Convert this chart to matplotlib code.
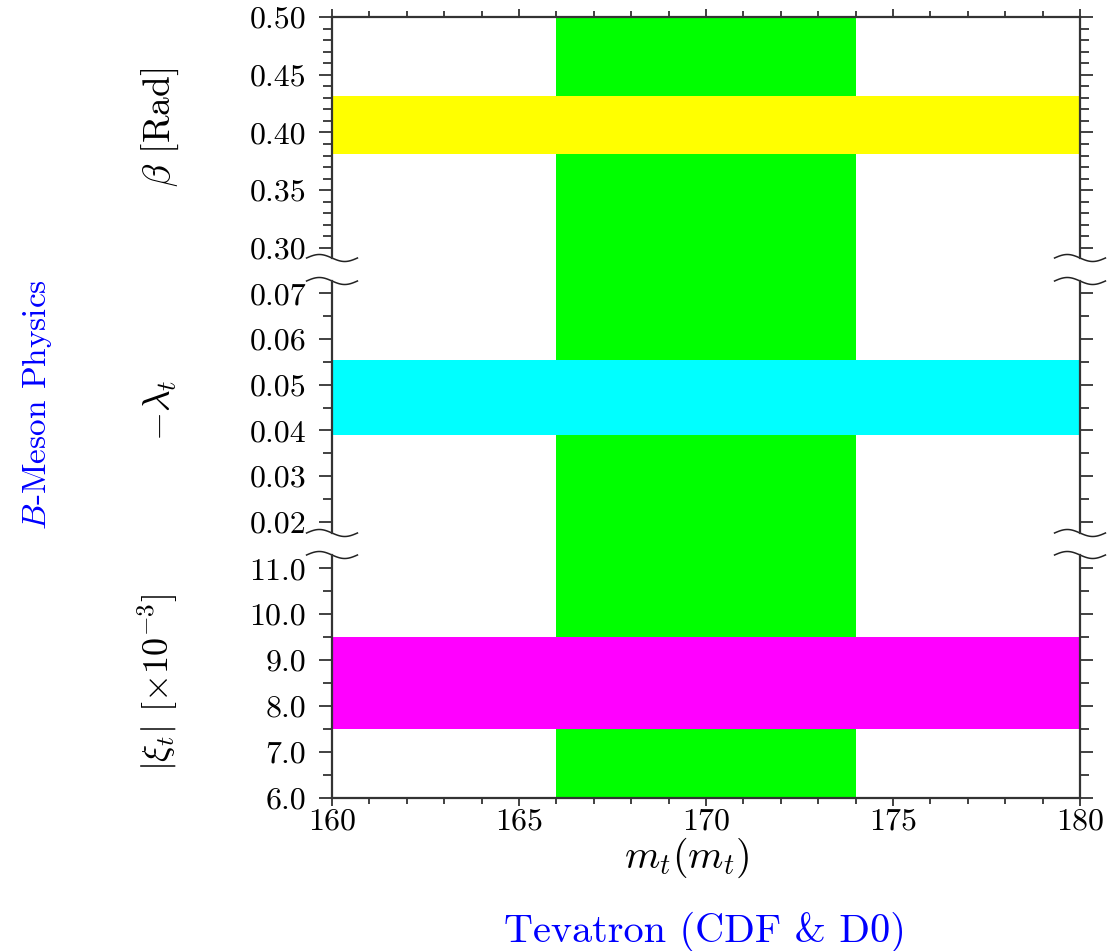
import numpy as np
import matplotlib
matplotlib.use("Agg")
import matplotlib.pyplot as plt
from matplotlib.ticker import MultipleLocator, FormatStrFormatter

plt.rcParams['font.family'] = ['cmr10', 'DejaVu Serif']
plt.rcParams['mathtext.fontset'] = 'cm'
plt.rcParams['axes.formatter.use_mathtext'] = True

# data
x_range = (160, 180)
mt_band = (166.0, 174.0)          # Tevatron m_t(m_t) band
beta_band = (0.381, 0.432)        # beta [Rad]
lam_band = (0.0389, 0.0554)       # -lambda_t
xi_band = (7.5, 9.5)              # |xi_t| [x10^-3]

beta_lim = (0.2913, 0.50)
lam_lim = (0.01753, 0.0727)
xi_lim = (6.0, 11.29)

W, H = 1111, 951
fig = plt.figure(figsize=(W / 100, H / 100), dpi=100)


def rect(x0, y0, x1, y1):
    # pixel box (top-left origin) -> figure fraction
    return [x0 / W, 1 - y1 / H, (x1 - x0) / W, (y1 - y0) / H]


xl, xr = 332, 1080
bg = fig.add_axes(rect(xl, 17, xr, 798), zorder=0)
bg.set_xlim(*x_range)
bg.set_ylim(0, 1)
bg.axvspan(*mt_band, color='#00ff00', lw=0)
bg.axis('off')

ax_top = fig.add_axes(rect(xl, 17, xr, 258), zorder=2)
ax_mid = fig.add_axes(rect(xl, 281, xr, 533), zorder=2)
ax_bot = fig.add_axes(rect(xl, 555, xr, 798), zorder=2)

ax_top.axhspan(*beta_band, color='#ffff00', lw=0)
ax_mid.axhspan(*lam_band, color='#00ffff', lw=0)
ax_bot.axhspan(*xi_band, color='#ff00ff', lw=0)

ax_top.set_ylim(*beta_lim)
ax_mid.set_ylim(*lam_lim)
ax_bot.set_ylim(*xi_lim)

ax_top.yaxis.set_major_locator(MultipleLocator(0.05))
ax_top.yaxis.set_minor_locator(MultipleLocator(0.01))
ax_top.yaxis.set_major_formatter(FormatStrFormatter('%.2f'))
ax_mid.yaxis.set_major_locator(MultipleLocator(0.01))
ax_mid.yaxis.set_minor_locator(MultipleLocator(0.005))
ax_mid.yaxis.set_major_formatter(FormatStrFormatter('%.2f'))
ax_bot.yaxis.set_major_locator(MultipleLocator(1.0))
ax_bot.yaxis.set_minor_locator(MultipleLocator(0.5))
ax_bot.yaxis.set_major_formatter(FormatStrFormatter('%.1f'))

spine_c = '#333333'
for ax in (ax_top, ax_mid, ax_bot):
    ax.patch.set_visible(False)
    ax.set_xlim(*x_range)
    ax.xaxis.set_major_locator(MultipleLocator(5))
    ax.xaxis.set_minor_locator(MultipleLocator(1))
    for s in ax.spines.values():
        s.set_color(spine_c)
        s.set_linewidth(1.6)
    ax.tick_params(axis='y', which='both', direction='out', left=True, right=True,
                   labelleft=True, labelright=False, color=spine_c, width=1.3,
                   labelsize=23, pad=9)
    ax.tick_params(axis='y', which='major', length=9.5)
    ax.tick_params(axis='y', which='minor', length=6.5)
    ax.tick_params(axis='x', which='both', direction='out', color=spine_c, width=1.3,
                   bottom=False, top=False, labelbottom=False, labelsize=23, pad=1)
    ax.tick_params(axis='x', which='major', length=6)
    ax.tick_params(axis='x', which='minor', length=4)

ax_top.spines['bottom'].set_visible(False)
ax_mid.spines['top'].set_visible(False)
ax_mid.spines['bottom'].set_visible(False)
ax_bot.spines['top'].set_visible(False)
ax_top.tick_params(axis='x', which='both', top=True)
ax_bot.tick_params(axis='x', which='both', bottom=True, labelbottom=True)

# wavy break marks
t = np.linspace(0, 1, 60)
wx = -0.034 + 0.068 * t
for ax, ypos, hpx in ((ax_top, 0.0, 241), (ax_mid, 1.0, 252), (ax_mid, 0.0, 252), (ax_bot, 1.0, 243)):
    wy = ypos + (3.5 / hpx) * np.sin(2 * np.pi * t)
    for x0 in (0.0, 1.0):
        ax.plot(x0 + wx, wy, color='#222222', lw=1.1, transform=ax.transAxes, clip_on=False)

# labels
fig.text(160 / W, 1 - 127 / H, r'$\beta$ [Rad]', rotation=90, ha='center', va='center', fontsize=27)
fig.text(160 / W, 1 - 410 / H, r'$-\lambda_t$', rotation=90, ha='center', va='center', fontsize=27)
fig.text(158 / W, 1 - 682 / H, r'$|\xi_t|$ [$\times10^{-3}$]', rotation=90, ha='center', va='center', fontsize=26)
fig.text(37 / W, 1 - 405 / H, r'$B$-Meson Physics', rotation=90, ha='center', va='center',
         fontsize=24, color='#0000ff')
fig.text(687 / W, 1 - 858 / H, r'$m_t(m_t)$', ha='center', va='center', fontsize=29)
fig.text(705 / W, 1 - 932 / H, 'Tevatron (CDF & D0)', ha='center', va='center',
         fontsize=29, color='#0000ff')

fig.savefig('out.png', dpi=100)
